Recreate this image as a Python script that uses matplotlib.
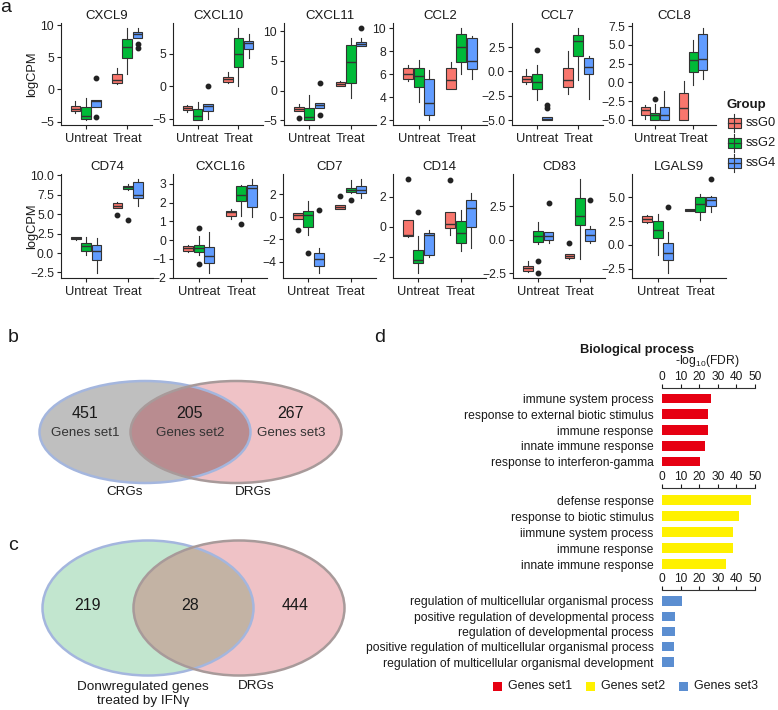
import matplotlib.pyplot as plt
from matplotlib.patches import Ellipse, Rectangle

plt.rcParams['font.family'] = ['Liberation Sans', 'DejaVu Sans']
plt.rcParams['mathtext.default'] = 'regular'

# ---- data: panel a (box stats: whislo, q1, median, q3, whishi) ----
# row order: Untreat ssG0, ssG2, ssG4, Treat ssG0, ssG2, ssG4
conditions = ['Untreat', 'Treat']
groups = ['ssG0', 'ssG2', 'ssG4']
group_colors = ['#F8766D', '#00BA38', '#619CFF']

cxcl9 = [[-3.6, -3.4, -3.0, -2.5, -1.8], [-4.8, -4.6, -4.05, -2.7, -1.3], [-2.7, -2.7, -1.85, -1.7, -1.7],
         [0.9, 0.95, 1.5, 2.4, 3.3], [2.4, 4.9, 6.6, 7.9, 9.6], [8.05, 8.05, 8.6, 8.85, 9.5]]
cxcl9_out = [[], [], [1.8, -4.2], [], [], [7.0, 6.5]]
cxcl10 = [[-4.0, -3.6, -3.35, -3.1, -2.9], [-5.25, -5.25, -4.6, -3.5, -2.5], [-5.1, -3.85, -3.1, -2.75, -2.75],
          [0.5, 0.65, 1.1, 1.4, 2.25], [0.0, 3.0, 5.0, 7.4, 9.0], [4.4, 5.75, 6.6, 6.9, 8.0]]
cxcl10_out = [[], [], [0.0], [], [], []]
cxcl11 = [[-3.45, -3.45, -3.1, -2.75, -2.2], [-5.0, -5.0, -4.35, -2.9, -0.75], [-2.9, -2.9, -2.4, -2.0, -2.0],
          [0.7, 0.85, 1.1, 1.4, 1.6], [-1.3, 1.3, 4.8, 7.6, 8.9], [7.45, 7.45, 7.9, 8.15, 8.9]]
cxcl11_out = [[-4.6], [], [1.3, -4.1], [], [], [10.6]]
ccl2 = [[5.4, 5.57, 6.06, 6.57, 6.77], [3.63, 4.91, 5.83, 6.57, 7.26], [2.0, 2.43, 3.49, 5.63, 6.34],
        [4.69, 4.69, 5.54, 6.57, 7.11], [6.0, 7.06, 8.34, 9.49, 10.06], [5.57, 6.43, 7.2, 9.2, 9.34]]
ccl2_out = [[], [], [], [], [], []]
ccl7 = [[-1.25, -1.08, -0.74, -0.51, 0.27], [-2.94, -1.76, -1.08, -0.3, 0.7], [-5.03, -5.03, -4.9, -4.73, -4.73],
        [-2.33, -1.59, -0.91, 0.34, 2.13], [-0.84, 1.62, 3.07, 3.75, 4.49], [-2.84, -0.3, 0.44, 1.39, 1.62]]
ccl7_out = [[], [2.2], [-3.45, -3.78], [], [], []]
ccl8 = [[-4.86, -4.3, -3.65, -3.34, -3.0], [-4.99, -4.99, -4.43, -4.12, -2.9], [-5.08, -5.08, -4.34, -3.34, -1.17],
        [-4.99, -4.99, -3.47, -1.39, 0.13], [-0.3, 1.43, 2.91, 4.04, 5.64], [0.43, 1.65, 3.08, 6.42, 7.29]]
ccl8_out = [[], [-2.17], [], [], [], []]
cd74 = [[1.72, 1.81, 1.94, 2.03, 2.1], [-0.26, 0.22, 0.86, 1.25, 2.03], [-2.6, -0.86, 0.3, 1.03, 1.9],
        [5.78, 5.78, 6.12, 6.42, 6.55], [8.06, 8.19, 8.49, 8.62, 8.92], [6.12, 7.07, 7.5, 9.14, 9.57]]
cd74_out = [[], [], [], [4.91], [4.27], []]
cxcl16 = [[-0.66, -0.57, -0.43, -0.34, -0.27], [-0.8, -0.66, -0.43, -0.27, 0.2], [-1.77, -1.2, -0.875, -0.39, 0.45],
          [1.12, 1.3, 1.48, 1.57, 1.66], [1.3, 2.07, 2.41, 2.875, 2.95], [1.21, 1.75, 2.77, 2.96, 3.27]]
cxcl16_out = [[], [0.64, -1.25], [], [], [0.84], []]
cd7 = [[-0.24, -0.24, 0.18, 0.33, 0.33], [-1.62, -0.93, 0.18, 0.48, 1.41], [-5.0, -4.38, -3.72, -3.18, -2.8],
       [0.66, 0.72, 0.87, 1.02, 1.02], [2.07, 2.16, 2.37, 2.58, 3.27], [1.68, 2.07, 2.37, 2.73, 3.36]]
cd7_out = [[-1.2], [-3.18], [0.6], [1.83], [1.47], []]
cd14 = [[-0.69, -0.61, -0.54, 0.48, 0.48], [-3.07, -2.38, -2.16, -1.51, -0.6], [-2.01, -1.84, -0.54, -0.39, -0.17],
        [-0.54, -0.04, 0.22, 0.97, 0.97], [-1.62, -1.04, -0.39, 0.37, 1.12], [-1.41, 0.0, 1.25, 1.77, 2.27]]
cd14_out = [[3.2], [0.97], [], [3.09], [], []]
cd83 = [[-2.38, -2.31, -2.12, -1.94, -1.6], [-0.31, -0.18, 0.26, 0.67, 1.3], [-0.26, -0.05, 0.26, 0.6, 0.6],
        [-1.48, -1.4, -1.22, -1.04, -1.04], [-1.48, 1.11, 1.81, 3.11, 4.56], [-0.26, -0.1, 0.34, 0.78, 1.04]]
cd83_out = [[], [-1.61, -2.51], [2.72], [-0.21], [], [2.98]]
lgals9 = [[2.32, 2.39, 2.73, 3.07, 3.17], [-1.02, 0.68, 1.54, 2.46, 3.24], [-2.97, -1.6, -0.85, 0.24, 1.37],
          [3.52, 3.52, 3.62, 3.72, 3.72], [2.63, 3.41, 4.33, 5.02, 5.29], [3.41, 4.1, 4.68, 5.02, 5.12]]
lgals9_out = [[], [], [3.92], [], [], [6.93]]

genes_row1 = ['CXCL9', 'CXCL10', 'CXCL11', 'CCL2', 'CCL7', 'CCL8']
genes_row2 = ['CD74', 'CXCL16', 'CD7', 'CD14', 'CD83', 'LGALS9']
gene_stats = [cxcl9, cxcl10, cxcl11, ccl2, ccl7, ccl8, cd74, cxcl16, cd7, cd14, cd83, lgals9]
gene_outliers = [cxcl9_out, cxcl10_out, cxcl11_out, ccl2_out, ccl7_out, ccl8_out,
                 cd74_out, cxcl16_out, cd7_out, cd14_out, cd83_out, lgals9_out]
gene_yticks = [[-5, 0, 5, 10], [-5, 0, 5], [-5, 0, 5, 10], [2, 4, 6, 8, 10],
               [-5, -2.5, 0, 2.5], [-5, -2.5, 0, 2.5, 5, 7.5],
               [-2.5, 0, 2.5, 5, 7.5, 10], [-2, -1, 0, 1, 2, 3], [-4, -2, 0, 2],
               [-2, 0, 2], [-2.5, 0, 2.5], [-2.5, 0, 2.5, 5]]

# ---- data: panels b, c ----
venn_b_counts = [451, 205, 267]
venn_b_sets = ['Genes set1', 'Genes set2', 'Genes set3']
venn_b_names = ['CRGs', 'DRGs']
venn_c_counts = [219, 28, 444]
venn_c_names = ['Donwregulated genes\ntreated by IFN\u03b3', 'DRGs']

# ---- data: panel d ----
set1_terms = ['immune system process', 'response to external biotic stimulus', 'immune response',
              'innate immune response', 'response to interferon-gamma']
set1_fdr = [26.3, 24.8, 24.6, 23.1, 20.4]
set2_terms = ['defense response', 'response to biotic stimulus', 'iimmune system process',
              'immune response', 'innate immune response']
set2_fdr = [47.8, 41.6, 38.2, 38.0, 34.4]
set3_terms = ['regulation of multicellular organismal process', 'positive regulation of developmental process',
              'regulation of developmental process', 'positive regulation of multicellular organismal process',
              'regulation of multicellular organismal development']
set3_fdr = [11.0, 7.2, 7.0, 6.7, 6.7]
set_names = ['Genes set1', 'Genes set2', 'Genes set3']
set_colors = ['#E60012', '#FFF100', '#5B8ED1']

W, H = 778, 710
fig = plt.figure(figsize=(W / 100, H / 100), dpi=100)
txt = '#1a1a1a'


def px_axes(left, top, width, height):
    return fig.add_axes([left / W, 1 - (top + height) / H, width / W, height / H])


# overlay in pixel coordinates for venns and hand-made legends
ov = fig.add_axes([0, 0, 1, 1])
ov.set_xlim(0, W)
ov.set_ylim(H, 0)
ov.axis('off')


def fmt(v, ticks):
    if any(t != int(t) for t in ticks):
        s = '%.1f' % v
    else:
        s = '%d' % v
    return s.replace('-', '\u2212')


def draw_gene(ax, name, stats, outs, yticks):
    bstats, pos = [], []
    for k, (row, fl) in enumerate(zip(stats, outs)):
        lo, q1, med, q3, hi = row
        bstats.append(dict(whislo=lo, q1=q1, med=med, q3=q3, whishi=hi, fliers=fl))
        pos.append(1 + k // 3 + (k % 3 - 1) * 0.25)
    b = ax.bxp(bstats, positions=pos, widths=0.235, patch_artist=True, showcaps=False,
               manage_ticks=False,
               boxprops=dict(edgecolor='#333333', linewidth=0.8),
               whiskerprops=dict(color='#333333', linewidth=0.8),
               medianprops=dict(color='#333333', linewidth=1.0),
               flierprops=dict(marker='o', markerfacecolor='#222222', markeredgecolor='#222222',
                               markersize=3.2))
    for k, patch in enumerate(b['boxes']):
        patch.set_facecolor(group_colors[k % 3])
    vals = [v for row in stats for v in (row[0], row[4])] + [v for fl in outs for v in fl]
    lo, hi = min(vals), max(vals)
    pad = 0.05 * (hi - lo)
    ax.set_ylim(lo - pad, hi + pad)
    ax.set_xlim(0.4, 2.6)
    ax.set_xticks([1, 2])
    ax.set_xticklabels(conditions)
    ax.set_yticks(yticks)
    ax.set_yticklabels([fmt(t, yticks) for t in yticks])
    ax.set_title(name, fontsize=9.5, pad=3, color=txt)
    for s in ['top', 'right']:
        ax.spines[s].set_visible(False)
    for s in ['left', 'bottom']:
        ax.spines[s].set_linewidth(0.8)
        ax.spines[s].set_color('#222222')
    ax.tick_params(labelsize=8.7, length=3, width=0.8, colors='#222222', pad=2)
    ax.tick_params(axis='x', labelsize=9.3, pad=3)


row1_left = [61, 173, 284, 393, 512, 632]
row1_width = [91, 90, 92, 94, 91, 84]
row2_left = [61, 173, 283, 393, 513, 632]
row2_width = [92, 94, 93, 93, 92, 94]
for i, g in enumerate(genes_row1):
    ax = px_axes(row1_left[i], 23, row1_width[i], 102)
    draw_gene(ax, g, gene_stats[i], gene_outliers[i], gene_yticks[i])
for i, g in enumerate(genes_row2):
    ax = px_axes(row2_left[i], 174, row2_width[i], 104)
    draw_gene(ax, g, gene_stats[6 + i], gene_outliers[6 + i], gene_yticks[6 + i])

fig.text(32 / W, 1 - 74 / H, 'logCPM', rotation=90, ha='center', va='center', fontsize=9.3, color=txt)
fig.text(32 / W, 1 - 226 / H, 'logCPM', rotation=90, ha='center', va='center', fontsize=9.3, color=txt)

# group legend
ov.text(727, 105, 'Group', fontsize=9.5, fontweight='bold', va='center', ha='left', color=txt)
for i, (g, c) in enumerate(zip(groups, group_colors)):
    yc = 123 + i * 20
    ov.plot([734.5, 734.5], [yc - 9, yc + 9], color='#333333', lw=0.8)
    ov.add_patch(Rectangle((728, yc - 5), 13, 10, facecolor=c, edgecolor='#333333', lw=0.8))
    ov.plot([728, 741], [yc, yc], color='#333333', lw=0.9)
    ov.text(746, yc, g, fontsize=9.3, va='center', ha='left', color=txt)


# ---- venn diagrams ----
def venn(cx1, cx2, cy, w, h, c_left, c_right, c_both, e_left, e_right):
    left = Ellipse((cx1, cy), w, h, facecolor=c_left, edgecolor='none')
    right = Ellipse((cx2, cy), w, h, facecolor=c_right, edgecolor='none')
    ov.add_patch(left)
    ov.add_patch(right)
    both = Ellipse((cx2, cy), w, h, facecolor=c_both, edgecolor='none')
    ov.add_patch(both)
    clip = Ellipse((cx1, cy), w, h)
    clip.set_transform(ov.transData)
    both.set_clip_path(clip)
    ov.add_patch(Ellipse((cx1, cy), w, h, facecolor='none', edgecolor=e_left, lw=1.8))
    ov.add_patch(Ellipse((cx2, cy), w, h, facecolor='none', edgecolor=e_right, lw=1.8))


venn(145, 236, 432, 211, 102, '#BFBFBF', '#EFC2C6', '#B98C90', '#A4B6DE', '#A89A9A')
for x, n, s in zip([85, 190, 291], venn_b_counts, venn_b_sets):
    ov.text(x, 414, str(n), fontsize=11.5, ha='center', va='center', color=txt)
    ov.text(x, 433, s, fontsize=9.6, ha='center', va='center', color='#333333')
ov.text(125, 492, venn_b_names[0], fontsize=9.7, ha='center', va='center', color=txt)
ov.text(253, 492, venn_b_names[1], fontsize=9.7, ha='center', va='center', color=txt)

venn(148, 239, 608, 211, 135, '#C2E6CF', '#EFC2C6', '#C3B3A4', '#A4B6DE', '#A89A9A')
for x, n in zip([88, 190, 295], venn_c_counts):
    ov.text(x, 606, str(n), fontsize=11.5, ha='center', va='center', color=txt)
ov.text(143, 694, venn_c_names[0], fontsize=9.7, ha='center', va='center', color=txt, linespacing=1.15)
ov.text(256, 686, venn_c_names[1], fontsize=9.7, ha='center', va='center', color=txt)

# panel letters
for lab, x, y in [('a', 6, 7), ('b', 13, 338), ('c', 13, 546), ('d', 380, 338)]:
    ov.text(x, y, lab, fontsize=14, ha='center', va='center', color=txt)


# ---- panel d bars ----
def draw_terms(top, gap, step, terms, vals, color):
    n = len(terms)
    ax = px_axes(662, top, 93, (gap / step + n - 1 + 0.6) * step)
    ax.barh(range(n), vals, height=0.62, color=color)
    ax.set_ylim(n - 1 + 0.6, -gap / step)
    ax.set_xlim(0, 50)
    ax.set_yticks(range(n))
    ax.set_yticklabels(terms)
    ax.set_xticks([0, 10, 20, 30, 40, 50])
    ax.xaxis.tick_top()
    for s in ['bottom', 'left', 'right']:
        ax.spines[s].set_visible(False)
    ax.spines['top'].set_linewidth(0.8)
    ax.spines['top'].set_color('#333333')
    ax.tick_params(axis='y', length=0, pad=6, labelsize=8.7, colors=txt)
    ax.tick_params(axis='x', length=3, width=0.8, pad=0.5, labelsize=8.6, colors=txt)


draw_terms(388, 10.5, 15.75, set1_terms, set1_fdr, set_colors[0])
draw_terms(488, 12, 16.0, set2_terms, set2_fdr, set_colors[1])
draw_terms(590, 11, 15.25, set3_terms, set3_fdr, set_colors[2])

ov.text(637, 350, 'Biological process', fontsize=9.3, fontweight='bold', ha='center', va='center', color=txt)
ov.text(707, 361, '-log$_{10}$(FDR)', fontsize=8.7, ha='center', va='center', color=txt)

for i, (s, c) in enumerate(zip(set_names, set_colors)):
    x0 = 493 + i * 93
    ov.add_patch(Rectangle((x0, 681.5), 9, 9, facecolor=c, edgecolor='none'))
    ov.text(x0 + 15, 686, s, fontsize=9, ha='left', va='center', color=txt)

plt.savefig('out.png', dpi=100)
